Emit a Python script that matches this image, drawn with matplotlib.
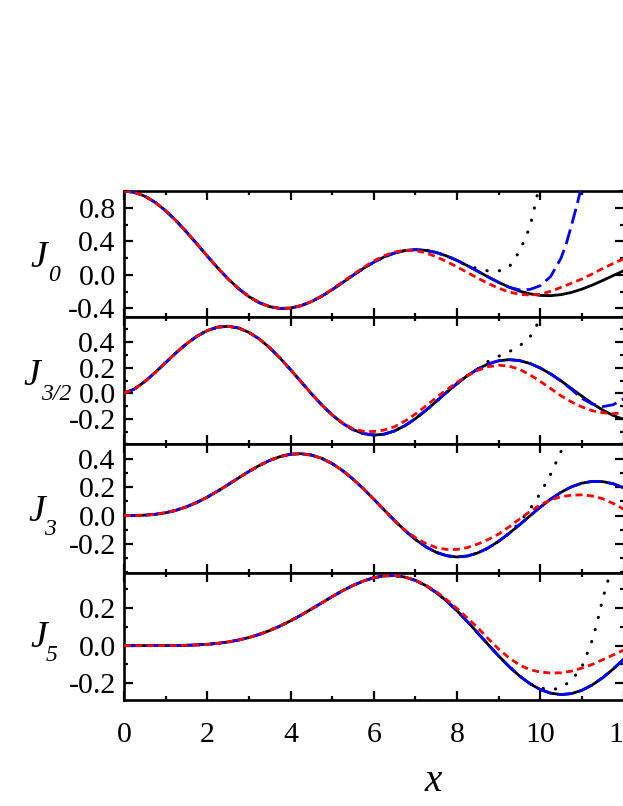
import numpy as np
import matplotlib
matplotlib.use('Agg')
import matplotlib.pyplot as plt
from matplotlib.ticker import MultipleLocator, FormatStrFormatter

plt.rcParams['font.family'] = 'Liberation Serif'
plt.rcParams['axes.unicode_minus'] = False

# common x grid (step 0.25, 0 .. 12)
x = np.arange(0, 12.01, 0.25)

# exact curves (black solid)
j0_exact = [1.0, 0.9844, 0.9385, 0.8642, 0.7652, 0.6459, 0.5118, 0.3690, 0.2239, 0.0827,
            -0.0484, -0.1641, -0.2601, -0.3328, -0.3801, -0.4014, -0.3971, -0.3692, -0.3205, -0.2551,
            -0.1776, -0.0931, -0.0068, 0.0760, 0.1506, 0.2131, 0.2601, 0.2895, 0.3001, 0.2920,
            0.2663, 0.2252, 0.1717, 0.1092, 0.0419, -0.0260, -0.0903, -0.1474, -0.1939, -0.2273,
            -0.2459, -0.2490, -0.2366, -0.2101, -0.1712, -0.1227, -0.0677, -0.0097, 0.0477]
j32_exact = [0.0, 0.0330, 0.0917, 0.1632, 0.2403, 0.3168, 0.3871, 0.4466, 0.4913, 0.5181,
             0.5251, 0.5115, 0.4777, 0.4253, 0.3566, 0.2753, 0.1853, 0.0911, -0.0024, -0.0908,
             -0.1697, -0.2353, -0.2847, -0.3160, -0.3279, -0.3207, -0.2953, -0.2538, -0.1991, -0.1347,
             -0.0646, 0.0070, 0.0759, 0.1382, 0.1905, 0.2299, 0.2545, 0.2633, 0.2561, 0.2338,
             0.1980, 0.1512, 0.0965, 0.0372, -0.0229, -0.0803, -0.1315, -0.1739, -0.2047]
j3_exact = [0.0, 0.0003, 0.0026, 0.0085, 0.0196, 0.0369, 0.0610, 0.0919, 0.1289, 0.1711,
            0.2166, 0.2634, 0.3091, 0.3510, 0.3868, 0.4138, 0.4302, 0.4341, 0.4247, 0.4015,
            0.3648, 0.3158, 0.2561, 0.1882, 0.1148, 0.0391, -0.0353, -0.1053, -0.1676, -0.2192,
            -0.2581, -0.2823, -0.2911, -0.2843, -0.2626, -0.2274, -0.1809, -0.1258, -0.0653, -0.0028,
            0.0584, 0.1147, 0.1633, 0.2015, 0.2272, 0.2397, 0.2382, 0.2229, 0.1951]
j5_exact = [0.0, 0.0, 0.0, 0.0001, 0.0002, 0.0007, 0.0018, 0.0038, 0.0070, 0.0121,
            0.0195, 0.0297, 0.0430, 0.0599, 0.0804, 0.1046, 0.1321, 0.1623, 0.1947, 0.2280,
            0.2611, 0.2926, 0.3209, 0.3446, 0.3621, 0.3721, 0.3736, 0.3656, 0.3479, 0.3204,
            0.2835, 0.2382, 0.1858, 0.1281, 0.0671, 0.0053, -0.0550, -0.1114, -0.1613, -0.2028,
            -0.2341, -0.2537, -0.2611, -0.2558, -0.2383, -0.2096, -0.1712, -0.1250, -0.0735]

# red short-dash approximation (same grid)
j0_red = j0_exact[:20] + [-0.172, -0.085, 0.002, 0.087, 0.165, 0.228, 0.272, 0.293, 0.29, 0.262,
                          0.215, 0.158, 0.095, 0.027, -0.04, -0.103, -0.16, -0.205, -0.232, -0.242,
                          -0.232, -0.197, -0.15, -0.1, -0.05, 0.01, 0.075, 0.135, 0.19]
j32_red = j32_exact[:21] + [-0.232, -0.278, -0.298, -0.30, -0.288, -0.262, -0.218, -0.163, -0.1,
                            -0.035, 0.027, 0.085, 0.137, 0.18, 0.208, 0.22, 0.212, 0.188, 0.145,
                            0.093, 0.037, -0.02, -0.068, -0.107, -0.137, -0.153, -0.16, -0.152]
j3_red = j3_exact[:25] + [0.040, -0.038, -0.103, -0.155, -0.196, -0.225, -0.238, -0.238, -0.225,
                          -0.2, -0.168, -0.13, -0.08, -0.025, 0.028, 0.075, 0.11, 0.132, 0.143,
                          0.145, 0.137, 0.118, 0.085, 0.045]
j5_red = j5_exact[:29] + [0.322, 0.288, 0.245, 0.198, 0.147, 0.095, 0.037, -0.018, -0.065, -0.103,
                          -0.128, -0.141, -0.146, -0.145, -0.136, -0.12, -0.1, -0.075, -0.05, -0.024]

# blue dashed approximation
x0_blue = list(x[:37]) + [9.25, 9.5, 9.75, 10.0, 10.25, 10.5, 10.625, 10.75, 10.875, 11.0]
j0_blue = j0_exact[:37] + [-0.148, -0.18, -0.175, -0.13, -0.02, 0.2, 0.37, 0.59, 0.82, 1.07]
x32_blue = list(x[:43]) + [10.75, 11.0, 11.25, 11.5, 11.75, 12.0]
j32_blue = j32_exact[:43] + [0.03, -0.04, -0.085, -0.105, -0.09, -0.045]
j3_blue = j3_exact
j5_blue = j5_exact

# black dotted approximation
x0_dot = list(x[:33]) + [8.25, 8.5, 8.75, 9.0, 9.25, 9.5, 9.625, 9.75, 9.875, 10.0]
j0_dot = j0_exact[:33] + [0.105, 0.075, 0.045, 0.045, 0.09, 0.28, 0.42, 0.57, 0.83, 1.12]
x32_dot = list(x[:35]) + [8.75, 9.0, 9.25, 9.5, 9.75, 10.0, 10.1]
j32_dot = j32_exact[:35] + [0.25, 0.29, 0.325, 0.37, 0.44, 0.58, 0.68]
x3_dot = list(x[:38]) + [9.5, 9.75, 10.0, 10.25, 10.5, 10.6]
j3_dot = j3_exact[:38] + [-0.05, 0.045, 0.155, 0.29, 0.45, 0.53]
x5_dot = list(x[:40]) + [10.0, 10.25, 10.5, 10.75, 11.0, 11.25, 11.375, 11.5, 11.625, 11.75]
j5_dot = j5_exact[:40] + [-0.225, -0.236, -0.225, -0.185, -0.115, 0.03, 0.13, 0.25, 0.345, 0.45]

labels = ['0', '3/2', '3', '5']
ylims = [(-0.5, 1.0), (-0.4, 0.6), (-0.4, 0.5), (-0.29, 0.39)]
yticks = [[-0.4, 0.0, 0.4, 0.8], [-0.2, 0.0, 0.2, 0.4], [-0.2, 0.0, 0.2, 0.4], [-0.2, 0.0, 0.2]]
yminor = [0.2, 0.1, 0.1, 0.1]

exact = [j0_exact, j32_exact, j3_exact, j5_exact]
red = [j0_red, j32_red, j3_red, j5_red]
blue = [(x0_blue, j0_blue), (x32_blue, j32_blue), (x, j3_blue), (x, j5_blue)]
dots = [(x0_dot, j0_dot), (x32_dot, j32_dot), (x3_dot, j3_dot), (x5_dot, j5_dot)]

W, H = 623.0, 806.0
fig = plt.figure(figsize=(W / 100, H / 100), dpi=100)
left, right = 124.0, 623.5
edges = [191.0, 316.7, 444.3, 572.5, 700.0]
# label baselines in pixels: J x, J y, subscript x, subscript y
lab_pos = [(30, 267, 48, 281), (23, 385, 41, 400), (28, 521, 44, 535), (30, 647, 46, 661)]

for i in range(4):
    ax = fig.add_axes([left / W, 1 - edges[i + 1] / H, (right - left) / W,
                       (edges[i + 1] - edges[i]) / H])
    ax.plot(x, exact[i], color='black', lw=2.0, zorder=2)
    ln, = ax.plot(dots[i][0], dots[i][1], color='black', lw=2.2, zorder=3)
    ln.set_dashes((0.1, 4.0))
    ln.set_dash_capstyle('round')
    ln, = ax.plot(blue[i][0], blue[i][1], color='#0000ff', lw=2.0, zorder=4)
    ln.set_dashes((5.5, 2.2))
    ln, = ax.plot(x, red[i], color='#ff0000', lw=2.0, zorder=5)
    ln.set_dashes((2.5, 1.6))

    ax.set_xlim(0, 12)
    ax.set_ylim(*ylims[i])
    ax.set_yticks(yticks[i])
    ax.yaxis.set_minor_locator(MultipleLocator(yminor[i]))
    ax.yaxis.set_major_formatter(FormatStrFormatter('%.1f'))
    ax.xaxis.set_major_locator(MultipleLocator(2))
    ax.xaxis.set_minor_locator(MultipleLocator(1))
    ax.tick_params(which='both', direction='in', top=True, right=True, width=1.6,
                   labelsize=21.5)
    ax.tick_params(which='major', length=6.5)
    ax.tick_params(which='minor', length=3.2)
    ax.tick_params(axis='y', pad=6)
    ax.tick_params(axis='x', pad=16)
    for s in ax.spines.values():
        s.set_linewidth(1.9)
    if i < 3:
        ax.tick_params(axis='x', labelbottom=False)

    jx, jy, sx, sy = lab_pos[i]
    fig.text(jx / W, 1 - jy / H, 'J', style='italic', fontsize=27, va='baseline', ha='left')
    fig.text(sx / W, 1 - sy / H, labels[i], style='italic', fontsize=17, va='baseline', ha='left')

fig.text(433 / W, 1 - 791 / H, 'x', style='italic', fontsize=28, va='baseline', ha='center')

plt.savefig('out.png', dpi=100)
